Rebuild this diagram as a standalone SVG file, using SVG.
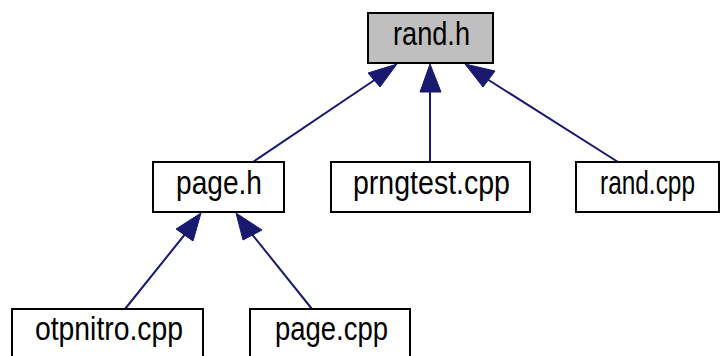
<svg xmlns="http://www.w3.org/2000/svg" width="721" height="356" viewBox="0 0 721 356">
<style>
.box{fill:#ffffff;stroke:#000000;stroke-width:2}
.root{fill:#bfbfbf}
.lbl{font-family:"Liberation Sans",Arial,sans-serif;font-size:33px;fill:#000000}
.edge{stroke:#191970;stroke-width:2;fill:none}
.head{fill:#191970;stroke:#191970;stroke-width:1}
</style>
<rect width="721" height="356" fill="#ffffff"/>
<g id="connectors">
<line class="edge" x1="253" y1="162" x2="376" y2="79"/>
<polygon class="head" points="397,64 368,73 380,87"/>
<line class="edge" x1="430" y1="162" x2="430" y2="90"/>
<polygon class="head" points="430,64 420,92 441,92"/>
<line class="edge" x1="618" y1="162" x2="487" y2="79"/>
<polygon class="head" points="465,64 483,87 495,71"/>
<line class="edge" x1="125" y1="309" x2="186" y2="233"/>
<polygon class="head" points="201,213 176,229 193,241"/>
<line class="edge" x1="312" y1="309" x2="251" y2="233"/>
<polygon class="head" points="236,213 243,240 262,230"/>
</g>
<g id="node-rand-h">
<rect class="box root" x="368" y="13" width="125" height="50"/>
<text class="lbl" x="393" y="45" textLength="77" lengthAdjust="spacingAndGlyphs">rand.h</text>
</g>
<g id="node-page-h">
<rect class="box" x="153" y="162" width="131" height="50"/>
<text class="lbl" x="176" y="194" textLength="86" lengthAdjust="spacingAndGlyphs">page.h</text>
</g>
<g id="node-prngtest-cpp">
<rect class="box" x="331" y="162" width="199" height="50"/>
<text class="lbl" x="353" y="194" textLength="157" lengthAdjust="spacingAndGlyphs">prngtest.cpp</text>
</g>
<g id="node-rand-cpp">
<rect class="box" x="576" y="162" width="143" height="50"/>
<text class="lbl" x="600" y="194" textLength="95" lengthAdjust="spacingAndGlyphs">rand.cpp</text>
</g>
<g id="node-otpnitro-cpp">
<rect class="box" x="12" y="309" width="191" height="50"/>
<text class="lbl" x="35" y="340" textLength="148" lengthAdjust="spacingAndGlyphs">otpnitro.cpp</text>
</g>
<g id="node-page-cpp">
<rect class="box" x="250" y="309" width="160" height="50"/>
<text class="lbl" x="275" y="340" textLength="113" lengthAdjust="spacingAndGlyphs">page.cpp</text>
</g>
</svg>
